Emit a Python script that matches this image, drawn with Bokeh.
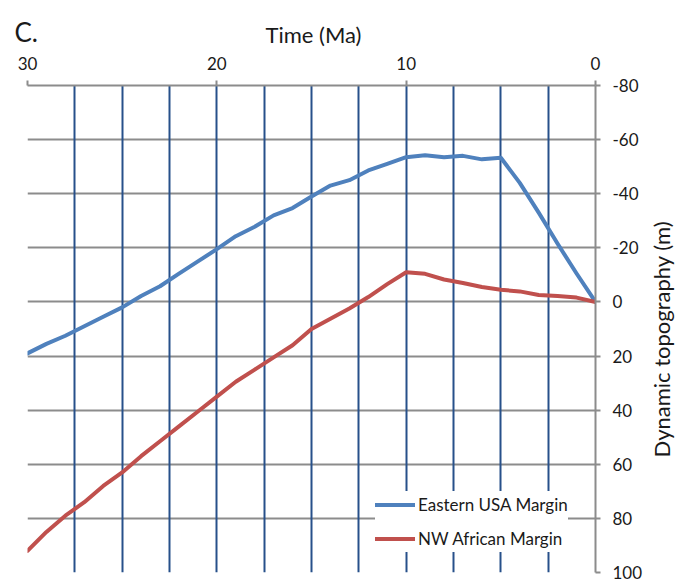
from bokeh.plotting import figure
from bokeh.layouts import row, column
from bokeh.models import Range1d, FixedTicker, SingleIntervalTicker, Legend, LegendItem, Title
from bokeh.embed import file_html
from bokeh.resources import INLINE

# ---- data ----
time_ma = [30, 29, 28, 27, 26, 25, 24, 23, 22, 21, 20, 19, 18, 17, 16, 15,
           14, 13, 12, 11, 10, 9, 8, 7, 6, 5, 4, 3, 2, 1, 0]
eastern_usa = [19, 15.5, 12.5, 9, 5.5, 2, -2.2, -5.8, -10.5, -15, -19.5, -24.3, -27.8, -32, -34.7, -39,
               -43, -45, -48.6, -51, -53.5, -54.2, -53.5, -54, -52.7, -53.3, -44, -33, -21.5, -10.5, 0]
nw_africa = [92, 85, 79, 74, 68, 63, 57, 51.5, 46, 40.5, 35, 29.5, 25, 20.5, 16, 10,
             6.2, 2.4, -1.8, -6.6, -11, -10.4, -8.3, -7, -5.5, -4.5, -3.9, -2.6, -2.2, -1.6, 0]
x_ticks = [30, 20, 10, 0]
y_ticks = [-80, -60, -40, -20, 0, 20, 40, 60, 80, 100]
y_tick_labels = {v: str(v) for v in y_ticks}

FONT = "Lato"
TXT = "#1a1a1a"
GRAY = "#8c8c8c"
HEAD_H = 48


def bare(width, height, top, bottom=0):
    f = figure(width=width, height=height, output_backend="svg", toolbar_location=None,
               x_axis_location=None, y_axis_location=None,
               min_border_left=0, min_border_right=0, min_border_top=top, min_border_bottom=bottom)
    f.outline_line_color = None
    f.grid.visible = False
    f.background_fill_color = "white"
    f.border_fill_color = "white"
    return f


def style_title(t, text, size, offset):
    t.text = text
    t.align = "left"
    t.offset = offset
    t.standoff = 0
    t.text_font = FONT
    t.text_font_size = size
    t.text_font_style = "normal"
    t.text_color = TXT


# ---- header strip: panel letter and x-axis title ----
c_fig = bare(60, HEAD_H, 47)
style_title(c_fig.title, "C.", "26px", 14)
t_fig = bare(618, HEAD_H, 44)
style_title(t_fig.title, "Time (Ma)", "22px", 205)

# ---- main chart ----
p = figure(width=645, height=582 - HEAD_H, output_backend="svg", toolbar_location=None,
           x_range=Range1d(30, 0), y_range=Range1d(100, -80),
           x_axis_location="above", y_axis_location="right",
           min_border_left=27, min_border_right=47, min_border_top=85 - HEAD_H, min_border_bottom=10)
p.outline_line_color = None
p.background_fill_color = "white"
p.border_fill_color = "white"

xa = p.xaxis[0]
xa.ticker = FixedTicker(ticks=x_ticks)
xa.major_label_text_font = FONT
xa.major_label_text_font_size = "17px"
xa.major_label_text_color = TXT
xa.major_label_standoff = 11
xa.axis_line_color = GRAY
xa.axis_line_width = 2
xa.major_tick_line_color = GRAY
xa.major_tick_line_width = 2
xa.major_tick_in = 0
xa.major_tick_out = 5
xa.minor_tick_line_color = None

ya = p.yaxis[0]
ya.ticker = FixedTicker(ticks=y_ticks)
ya.major_label_overrides = y_tick_labels
ya.major_label_text_font = FONT
ya.major_label_text_font_size = "17px"
ya.major_label_text_color = TXT
ya.major_label_standoff = 12
ya.axis_line_color = GRAY
ya.axis_line_width = 2
ya.major_tick_line_color = GRAY
ya.major_tick_line_width = 2
ya.major_tick_in = 0
ya.major_tick_out = 5
ya.minor_tick_line_color = None

# grids: gray horizontal, dark-blue vertical every 2.5 Ma (vertical on top)
gx = p.xgrid[0]
gy = p.ygrid[0]
gx.ticker = SingleIntervalTicker(interval=2.5, num_minor_ticks=0)
gx.grid_line_color = "#27508a"
gx.grid_line_width = 2
gy.ticker = FixedTicker(ticks=y_ticks)
gy.grid_line_color = GRAY
gy.grid_line_width = 2
p.center = [gy, gx] + [r for r in p.center if r is not gx and r is not gy]

r1 = p.line(time_ma, eastern_usa, line_color="#4f81bd", line_width=4, line_join="round", line_cap="round")
r2 = p.line(time_ma, nw_africa, line_color="#c0504d", line_width=4, line_join="round", line_cap="round")

legend = Legend(items=[LegendItem(label="Eastern USA Margin", renderers=[r1]),
                       LegendItem(label="NW African Margin", renderers=[r2])],
                location=(348, 20), orientation="vertical",
                background_fill_color="white", background_fill_alpha=1.0,
                border_line_color=None, padding=6, spacing=7, margin=0,
                glyph_width=40, glyph_height=27, label_standoff=3,
                label_text_font=FONT, label_text_font_size="17px", label_text_color=TXT)
p.add_layout(legend, "center")

# ---- y-axis title in a thin companion figure (reads bottom-to-top) ----
side = bare(33, 582 - HEAD_H, 85 - HEAD_H, 10)
side.title.visible = False
side.add_layout(Title(text="Dynamic topography (m)", align="left", offset=115, standoff=0,
                      text_font=FONT, text_font_size="22px", text_font_style="normal",
                      text_color=TXT), "left")

layout = column(row(c_fig, t_fig, spacing=0), row(p, side, spacing=0), spacing=0)
open("out.html", "w").write(file_html(layout, INLINE))
